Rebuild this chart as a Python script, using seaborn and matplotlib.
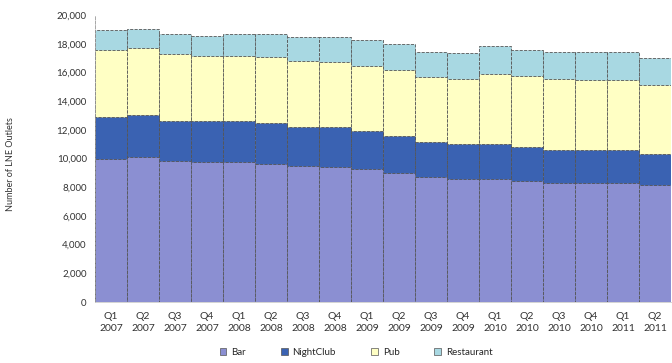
import numpy as np
import pandas as pd
import matplotlib
matplotlib.use("Agg")
import matplotlib.pyplot as plt
import seaborn as sns
from matplotlib.patches import Patch

quarters = ["Q1\n2007", "Q2\n2007", "Q3\n2007", "Q4\n2007",
            "Q1\n2008", "Q2\n2008", "Q3\n2008", "Q4\n2008",
            "Q1\n2009", "Q2\n2009", "Q3\n2009", "Q4\n2009",
            "Q1\n2010", "Q2\n2010", "Q3\n2010", "Q4\n2010",
            "Q1\n2011", "Q2\n2011"]
bar_vals = [9980, 10090, 9840, 9790, 9790, 9650, 9510, 9420, 9255, 9000,
            8720, 8560, 8550, 8440, 8300, 8290, 8290, 8160]
nightclub = [2920, 2930, 2760, 2810, 2810, 2810, 2670, 2760, 2695, 2555,
             2440, 2460, 2450, 2330, 2280, 2290, 2270, 2160]
pub = [4650, 4650, 4670, 4530, 4530, 4625, 4650, 4535, 4510, 4625,
       4510, 4530, 4900, 4990, 4950, 4900, 4900, 4790]
restaurant = [1395, 1390, 1420, 1420, 1560, 1580, 1650, 1765, 1785, 1810,
              1760, 1770, 1910, 1790, 1880, 1930, 1930, 1880]
series_names = ["Bar", "NightClub", "Pub", "Restaurant"]
colors = ["#8B8FD2", "#3A62B2", "#FFFFC4", "#A8D8E2"]

sns.set_style("white")
plt.rcParams["font.family"] = ["Lato", "DejaVu Sans"]

fig = plt.figure(figsize=(6.72, 3.63), dpi=100)
ax = fig.add_axes([0.1414, 0.168, 0.857, 0.7906])

stack = np.vstack([bar_vals, nightclub, pub, restaurant])
cum = np.cumsum(stack, axis=0)
df = pd.DataFrame({"quarter": quarters})
for i in range(3, -1, -1):
    df["v"] = cum[i]
    sns.barplot(data=df, x="quarter", y="v", color=colors[i], saturation=1,
                width=1.0, edgecolor="#555555", linewidth=0.6,
                linestyle="--", ax=ax)

ax.set_xlim(-0.5, len(quarters) - 0.5)
ax.set_ylim(0, 20000)
ax.set_yticks(np.arange(0, 20001, 2000))
ax.set_yticklabels([f"{v:,}" for v in range(0, 20001, 2000)])
ax.set_xlabel("")
ax.set_ylabel("Number of LNE Outlets", fontsize=6.5, color="#333333")
ax.yaxis.set_label_coords(-0.139, 0.48)
ax.tick_params(axis="y", labelsize=7, colors="#333333", length=0, pad=6)
ax.tick_params(axis="x", labelsize=7.5, colors="#333333", length=0, pad=7)
for lbl in ax.get_xticklabels():
    lbl.set_linespacing(1.45)
ax.set_xticks(np.arange(-0.5, len(quarters), 1.0), minor=True)
ax.tick_params(axis="x", which="minor", length=3, color="#999999", width=0.6)

for s in ["top", "right"]:
    ax.spines[s].set_visible(False)
ax.spines["left"].set_color("#999999")
ax.spines["left"].set_linestyle("--")
ax.spines["left"].set_linewidth(0.6)
ax.spines["bottom"].set_color("#cccccc")
ax.spines["bottom"].set_linewidth(0.6)

handles = [Patch(facecolor=c, edgecolor="#555555", linewidth=0.5) for c in colors]
fig.legend(handles, series_names, loc="center", bbox_to_anchor=(0.53, 0.03),
           ncol=4, frameon=False, fontsize=7, handlelength=0.7, handleheight=0.7,
           columnspacing=3.6, handletextpad=0.5)

fig.savefig("out.png", dpi=100)
